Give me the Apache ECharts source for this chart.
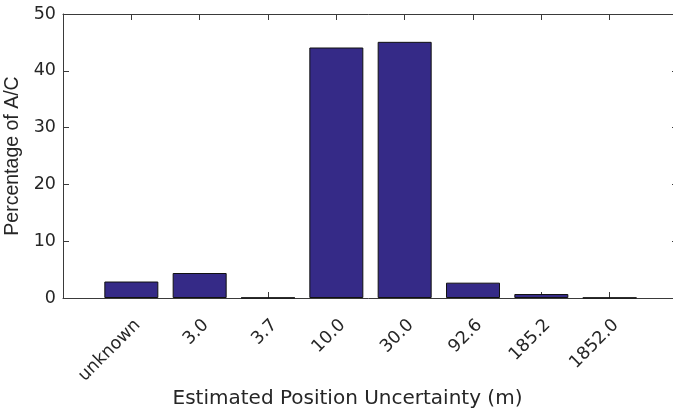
<!DOCTYPE html>
<html>
<head>
<meta charset="utf-8">
<script src="https://cdn.jsdelivr.net/npm/echarts@6/dist/echarts.min.js"></script>
<style>
html,body{margin:0;padding:0;background:#fff;}
#chart{width:673px;height:417px;}
</style>
</head>
<body>
<div id="chart"></div>
<script>
const categories = ['unknown', '3.0', '3.7', '10.0', '30.0', '92.6', '185.2', '1852.0'];
const percentages = [2.9, 4.4, 0.05, 44.1, 45.1, 2.7, 0.7, 0.05];
const yTicks = [0, 10, 20, 30, 40, 50];
const xTitle = 'Estimated Position Uncertainty (m)';
const yTitle = 'Percentage of A/C';

const axisColor = '#3a3a3a';
const chart = echarts.init(document.getElementById('chart'), null, {renderer: 'canvas'});
const barData = categories.map((c, i) => [i + 1, percentages[i]]);

const lineStyle = {show: true, onZero: false, lineStyle: {color: axisColor, width: 1}};
const tickStyle = {show: true, inside: true, length: 6, lineStyle: {color: axisColor}};

chart.setOption({
  animation: false,
  backgroundColor: '#ffffff',
  grid: {left: 63, top: 14, width: 615, height: 284, containLabel: false, outerBoundsMode: 'none'},
  xAxis: [{
    type: 'value', min: 0, max: categories.length + 1, interval: 1,
    position: 'bottom',
    axisLine: lineStyle,
    axisTick: tickStyle,
    splitLine: {show: false},
    axisLabel: {
      rotate: 45, margin: 18, color: '#262626', verticalAlign: 'top',
      fontFamily: 'DejaVu Sans', fontSize: 17.5,
      formatter: v => categories[v - 1] || ''
    }
  }, {
    type: 'value', min: 0, max: categories.length + 1, interval: 1,
    position: 'top',
    axisLine: lineStyle,
    axisTick: tickStyle,
    splitLine: {show: false},
    axisLabel: {show: false}
  }],
  yAxis: [{
    type: 'value', min: yTicks[0], max: yTicks[yTicks.length - 1], interval: 10,
    position: 'left',
    name: yTitle, nameLocation: 'middle', nameGap: 38, nameRotate: 90,
    nameTextStyle: {fontFamily: 'Liberation Sans', fontSize: 19.5, color: '#262626'},
    axisLine: lineStyle,
    axisTick: tickStyle,
    splitLine: {show: false},
    axisLabel: {margin: 7, color: '#262626', fontFamily: 'DejaVu Sans', fontSize: 17.5}
  }, {
    type: 'value', min: yTicks[0], max: yTicks[yTicks.length - 1], interval: 10,
    position: 'right',
    axisLine: lineStyle,
    axisTick: tickStyle,
    splitLine: {show: false},
    axisLabel: {show: false}
  }],
  graphic: [{
    type: 'text', x: 347.5, y: 399,
    style: {
      text: xTitle, textAlign: 'center', textVerticalAlign: 'middle',
      fontFamily: 'DejaVu Sans', fontSize: 20, fill: '#262626'
    }
  }],
  series: [{
    type: 'bar',
    xAxisIndex: 0, yAxisIndex: 0,
    data: barData,
    barWidth: 54,
    itemStyle: {color: '#352A87', borderColor: '#111111', borderWidth: 1}
  }]
});
</script>
</body>
</html>
